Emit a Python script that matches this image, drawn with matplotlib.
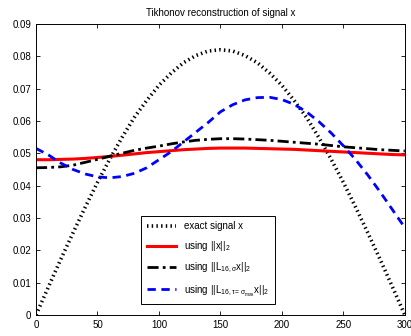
import numpy as np
import matplotlib
matplotlib.use('Agg')
import matplotlib.pyplot as plt

plt.rcParams['font.family'] = ['Liberation Sans', 'DejaVu Sans']
plt.rcParams['mathtext.fontset'] = 'custom'
plt.rcParams['mathtext.rm'] = 'Liberation Sans'
plt.rcParams['mathtext.it'] = 'Liberation Sans'

###### sample positions along the signal ######
t = [0, 10, 20, 30, 40, 50, 60, 70, 80, 90, 100, 110, 120, 130, 140, 150,
     160, 170, 180, 190, 200, 210, 220, 230, 240, 250, 260, 270, 280, 290, 300]

###### exact signal and the three reconstructions ######
x_exact = [0.0, 0.0086, 0.0171, 0.0253, 0.0333, 0.0410, 0.0482, 0.0549, 0.0611, 0.0663,
           0.0710, 0.0748, 0.0780, 0.0802, 0.0816, 0.0820, 0.0816, 0.0802, 0.0780, 0.0748,
           0.0710, 0.0663, 0.0611, 0.0549, 0.0482, 0.0410, 0.0333, 0.0253, 0.0171, 0.0086, 0.0]
x_l2 = [0.0480, 0.0480, 0.0481, 0.0482, 0.0484, 0.0487, 0.0490, 0.0494, 0.0498, 0.0502,
        0.0505, 0.0508, 0.0511, 0.0513, 0.0515, 0.0516, 0.0516, 0.0516, 0.0515, 0.0514,
        0.0513, 0.0512, 0.0510, 0.0508, 0.0506, 0.0504, 0.0502, 0.0500, 0.0498, 0.0496, 0.0495]
x_sigma = [0.0455, 0.0456, 0.0458, 0.0463, 0.0472, 0.0481, 0.0491, 0.0500, 0.0509, 0.0516,
           0.0522, 0.0529, 0.0535, 0.0540, 0.0543, 0.0545, 0.0545, 0.0544, 0.0542, 0.0540,
           0.0537, 0.0534, 0.0531, 0.0528, 0.0524, 0.0520, 0.0517, 0.0514, 0.0511, 0.0509, 0.0507]
x_tau = [0.0515, 0.0495, 0.0470, 0.0450, 0.0436, 0.0427, 0.0424, 0.0428, 0.0438, 0.0455,
         0.0480, 0.0505, 0.0535, 0.0565, 0.0595, 0.0628, 0.0650, 0.0665, 0.0672, 0.0673,
         0.0666, 0.0651, 0.0628, 0.0598, 0.0563, 0.0523, 0.0480, 0.0432, 0.0380, 0.0325, 0.0270]

fig = plt.figure(figsize=(4.11, 3.36), dpi=100)
ax = fig.add_axes([0.0876, 0.0625, 0.8974, 0.8665])

ax.plot(t, x_exact, color='k', lw=2.6, linestyle=(0, (0.4, 0.9)), label='exact signal x')
ax.plot(t, x_l2, color='red', lw=2.2, label=r'using $||x||_2$')
ax.plot(t, x_sigma, color='k', lw=2.0, linestyle=(0, (4, 1.5, 1, 1.5)),
        label=r'using $||L_{16,\sigma}x||_2$')
ax.plot(t, x_tau, color='blue', lw=2.0, linestyle=(0, (3, 2)),
        label=r'using $||L_{16,\tau=\sigma_{max}}x||_2$')

ax.set_xlim(0, 300)
ax.set_ylim(0, 0.09)
ax.set_xticks(np.arange(0, 301, 50))
ax.set_yticks(np.arange(0, 0.0901, 0.01))
ax.set_yticklabels(['0', '0.01', '0.02', '0.03', '0.04', '0.05', '0.06', '0.07', '0.08', '0.09'])
ax.tick_params(direction='in', top=True, right=True, labelsize=7, length=3, width=0.6)
for s in ax.spines.values():
    s.set_linewidth(0.7)

ax.set_title('Tikhonov reconstruction of signal x', fontsize=7)

leg = ax.legend(loc='center', bbox_to_anchor=(0.466, 0.19), fontsize=7,
                fancybox=False, edgecolor='k', framealpha=1, handlelength=3.0,
                borderpad=0.6, labelspacing=0.8)
leg.get_frame().set_linewidth(0.7)

fig.savefig('out.png', dpi=100)
